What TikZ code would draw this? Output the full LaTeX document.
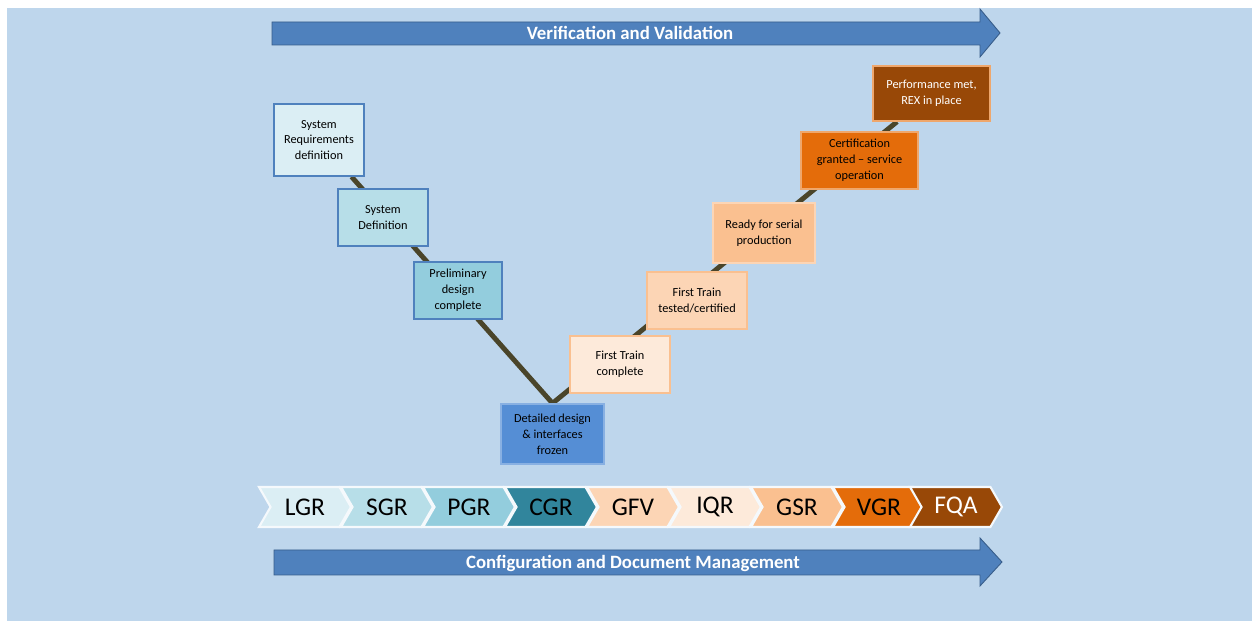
\documentclass[tikz,border=0pt]{standalone}
\usepackage{fontspec}
\setmainfont{Carlito}
\usepackage{tikz}
\usetikzlibrary{shapes.symbols, backgrounds}

\definecolor{pagebg}{RGB}{190,214,236}
\definecolor{vline}{RGB}{74,69,42}
\definecolor{bandblue}{RGB}{79,129,189}
\definecolor{bandedge}{RGB}{56,93,138}
\definecolor{blueedge}{RGB}{79,129,189}
\definecolor{orangeedge}{RGB}{250,192,144}
\definecolor{cA}{RGB}{219,238,244}
\definecolor{cB}{RGB}{183,222,232}
\definecolor{cC}{RGB}{147,205,221}
\definecolor{cD}{RGB}{49,133,156}
\definecolor{cE}{RGB}{85,142,213}
\definecolor{oA}{RGB}{253,234,218}
\definecolor{oB}{RGB}{252,213,181}
\definecolor{oC}{RGB}{250,192,144}
\definecolor{oD}{RGB}{228,108,10}
\definecolor{oE}{RGB}{152,72,7}

\tikzset{
    msbox/.style={draw=blueedge, line width=0.8pt, align=center, inner sep=1pt,
        font=\fontsize{7}{9}\selectfont},
    obox/.style={msbox, draw=orangeedge},
    gate/.style={shape=signal, signal to=east, signal from=west, signal pointer angle=120,
        draw=white!85!pagebg, line width=1.2pt, minimum width=1.84cm, minimum height=0.8cm,
        inner sep=0pt, font=\fontsize{14.5}{15}\selectfont},
    band/.style={fill=bandblue, draw=bandedge, line width=0.5pt},
    bandtext/.style={text=white, font=\bfseries\fontsize{10.7}{12}\selectfont}
}

\begin{document}
\begin{tikzpicture}[x=0.02cm, y=-0.02cm]
    \useasboundingbox (0, 0) rectangle (1252, 621);

    % bands
    \draw[band] (272, 22) -- (980, 22) -- (980, 9) -- (1000, 33) -- (980, 57) -- (980, 45) -- (272, 45) -- cycle;
    \node[bandtext] (vv) at (630, 33) {Verification and Validation};
    \draw[band] (274, 550) -- (980, 550) -- (980, 538) -- (1002, 562) -- (980, 586) -- (980, 575) -- (274, 575) -- cycle;
    \node[bandtext] (cdm) at (633, 563) {Configuration and Document Management};

    % milestones
    \node[msbox, fill=cA, minimum width=1.8cm, minimum height=1.44cm] (req) at (319, 140) {System\\Requirements\\definition};
    \node[msbox, fill=cB, minimum width=1.8cm, minimum height=1.14cm] (sysdef) at (383, 217.5) {System\\Definition};
    \node[msbox, fill=cC, minimum width=1.76cm, minimum height=1.14cm] (prelim) at (458, 290.5) {Preliminary\\design\\complete};
    \node[msbox, fill=cE, draw=cE!70!white, minimum width=2.06cm, minimum height=1.2cm] (detail) at (552.5, 434) {Detailed design\\\& interfaces\\frozen};
    \node[obox, fill=oA, minimum width=2cm, minimum height=1.14cm] (ftc) at (620, 364.5) {First Train\\complete};
    \node[obox, fill=oB, minimum width=2cm, minimum height=1.14cm] (ftt) at (697, 300.5) {First Train\\tested/certified};
    \node[obox, fill=oC, draw=oB, minimum width=2.04cm, minimum height=1.2cm] (ready) at (764, 233) {Ready for serial\\production};
    \node[obox, fill=oD, draw=oD!60!white, minimum width=2.34cm, minimum height=1.14cm] (cert) at (859.5, 160.5) {Certification\\granted -- service\\operation};
    \node[obox, fill=oE, draw=oD!60!white, text=white, minimum width=2.34cm, minimum height=1.1cm] (perf) at (931.5, 93.5) {Performance met,\\REX in place};

    % gates
    \node[gate, fill=cA] (lgr) at (305, 507) {LGR};
    \node[gate, fill=cB] (sgr) at (387, 507) {SGR};
    \node[gate, fill=cC] (pgr) at (469, 507) {PGR};
    \node[gate, fill=cD] (cgr) at (551, 507) {CGR};
    \node[gate, fill=oB] (gfv) at (633, 507) {GFV};
    \node[gate, fill=oA] (iqr) at (715, 507) {IQR};
    \node[gate, fill=oC] (gsr) at (797, 507) {GSR};
    \node[gate, fill=oD] (vgr) at (879, 507) {VGR};
    \node[gate, fill=oE, text=white] (fqa) at (956, 507) {FQA};

    \begin{scope}[on background layer]
        \fill[pagebg] (7, 8) rectangle (1252, 621);
        \draw[vline, line width=2.8pt] (req) -- (detail.north) -- (perf);
    \end{scope}
\end{tikzpicture}
\end{document}
